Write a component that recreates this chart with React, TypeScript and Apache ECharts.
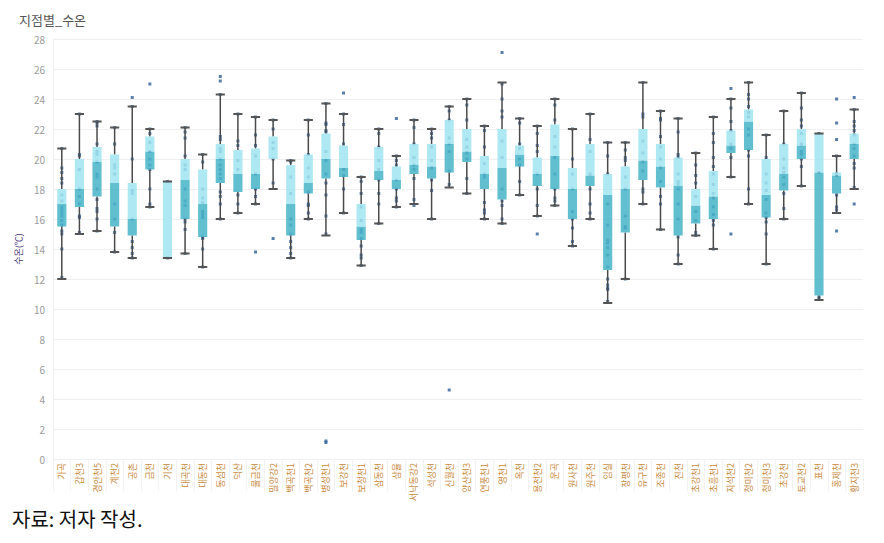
import React, { useEffect, useRef } from "react";
import * as echarts from "echarts";

const stations = [
  "가곡", "갑천3", "경안천5", "계천2", "공촌", "금천", "기천", "대곡천", "대동천", "동섬천",
  "덕산", "물금천", "밀양강2", "백곡천1", "백곡천2", "병성천1", "보강천", "보청천1", "삼동천", "삼율",
  "서낙동강2", "석성천", "신월천", "양산천3", "연풍천1", "영천1", "옥천", "용전천2", "운곡", "원사천",
  "원주천", "임실", "장평천", "유구천", "조종천", "진천", "초강천1", "초흥천1", "지석천2", "청미천2",
  "청미천3", "초강천", "토교천2", "표천", "홍제천", "황지천3",
];

const lows = [
  12.0, 15.0, 15.2, 13.8, 13.4, 16.8, 13.4, 13.7, 12.8, 16.0,
  16.4, 17.0, 18.0, 13.4, 16.0, 14.9, 16.4, 12.9, 15.7, 16.8,
  17.0, 16.0, 18.1, 17.7, 16.0, 15.7, 17.6, 16.2, 16.9, 14.2,
  16.0, 10.4, 12.0, 17.0, 15.3, 13.0, 14.9, 14.0, 18.8, 17.0,
  13.0, 16.0, 18.2, 10.6, 16.4, 18.0,
];
const q1s = [
  15.5, 16.8, 17.5, 15.5, 14.9, 19.3, 13.4, 16.0, 14.8, 18.4,
  17.8, 18.0, 20.0, 14.9, 17.7, 18.7, 18.8, 14.6, 18.6, 18.0,
  19.0, 18.7, 19.1, 19.8, 18.0, 17.3, 19.5, 18.2, 18.0, 16.0,
  18.2, 12.6, 15.1, 18.6, 18.1, 14.9, 15.7, 16.0, 20.4, 20.6,
  16.1, 17.9, 20.0, 10.9, 17.7, 20.0,
];
const medians = [
  17.0, 18.0, 19.8, 18.4, 16.0, 20.5, 13.4, 18.6, 17.0, 20.0,
  19.0, 19.0, 20.0, 17.0, 18.4, 20.0, 19.4, 15.5, 19.2, 18.6,
  19.6, 19.5, 21.0, 20.5, 19.0, 19.4, 20.3, 19.0, 20.2, 18.0,
  18.9, 17.6, 18.0, 19.9, 19.5, 18.2, 16.9, 17.5, 20.9, 22.5,
  17.6, 19.0, 20.9, 19.1, 18.9, 21.0,
];
const q3s = [
  18.0, 20.0, 20.8, 20.3, 18.4, 21.5, 18.5, 20.0, 19.3, 21.0,
  20.6, 20.7, 21.5, 19.6, 20.3, 21.7, 20.9, 17.0, 20.8, 19.5,
  21.0, 21.0, 22.6, 22.0, 20.2, 22.0, 20.9, 20.1, 22.3, 19.4,
  21.0, 19.0, 19.5, 22.0, 21.0, 20.1, 18.0, 19.2, 21.9, 23.3,
  20.0, 21.0, 22.0, 21.7, 19.1, 21.7,
];
const highs = [
  20.7, 23.0, 22.5, 22.1, 23.5, 22.0, 18.5, 22.1, 20.3, 24.3,
  23.0, 22.8, 22.6, 19.9, 22.6, 23.7, 23.0, 18.8, 22.0, 20.2,
  22.6, 22.0, 23.5, 24.0, 22.2, 25.1, 22.7, 22.2, 24.0, 22.0,
  23.0, 21.1, 21.1, 25.1, 23.2, 22.7, 20.4, 22.8, 24.0, 25.1,
  21.6, 23.2, 24.4, 21.7, 20.2, 23.3,
];

const pointValues: number[][] = [
  [20.7, 19.4, 19.1, 18.7, 18.4, 17.6, 17.2, 16.8, 16.6, 16.4, 16.2, 15.9, 15.6, 15.2, 15.0, 14.0, 12.1],
  [23.0, 20.3, 20.2, 19.3, 18.0, 17.5, 17.0, 16.2, 16.1, 15.1],
  [22.5, 22.4, 22.2, 21.0, 20.5, 20.3, 19.8, 19.0, 18.8, 18.0, 17.3, 16.7, 16.5, 16.0, 15.2],
  [22.1, 21.0, 19.6, 19.4, 19.0, 17.0, 16.0, 15.1, 13.8],
  [24.1, 23.5, 20.0, 17.9, 17.7, 16.0, 14.5, 14.1, 13.7, 13.4],
  [25.0, 22.0, 21.7, 21.1, 20.5, 20.0, 19.6, 19.3, 18.0, 17.0, 16.8],
  [18.5, 13.4],
  [22.1, 21.8, 21.4, 20.2, 19.6, 19.3, 18.0, 17.2, 16.9, 16.0, 15.8, 15.3, 13.7],
  [20.3, 19.8, 18.0, 17.4, 17.1, 16.5, 16.3, 16.1, 14.8, 14.7, 14.0, 12.8],
  [25.5, 25.2, 24.3, 21.5, 21.3, 20.7, 20.5, 20.0, 19.6, 19.3, 19.0, 18.7, 17.8, 17.5, 17.0, 16.0],
  [23.0, 21.2, 20.9, 19.9, 19.3, 17.6, 17.0, 16.4],
  [22.8, 21.6, 20.9, 20.2, 19.0, 18.0, 17.5, 17.0, 13.8],
  [22.6, 22.0, 21.1, 20.7, 20.0, 18.4, 14.7],
  [19.9, 19.8, 18.8, 17.7, 16.0, 15.6, 15.0, 14.5, 14.1, 13.7, 13.4],
  [22.6, 21.6, 20.3, 19.4, 18.8, 17.8, 17.0, 16.9, 16.4, 16.0],
  [23.7, 22.4, 22.3, 21.9, 21.8, 20.5, 19.9, 19.0, 18.4, 17.6, 16.2, 15.0, 1.2, 1.1],
  [24.4, 23.0, 22.3, 21.0, 19.3, 18.9, 18.0, 16.4],
  [18.8, 18.5, 17.7, 16.8, 15.9, 15.3, 15.1, 14.7, 14.2, 13.6, 13.4, 12.9],
  [22.0, 21.7, 20.8, 19.9, 19.3, 18.6, 17.7, 17.0, 15.7],
  [22.7, 20.2, 19.9, 19.6, 18.6, 18.0, 17.4, 17.2, 16.8],
  [22.6, 22.1, 21.0, 20.1, 19.6, 19.3, 18.7, 17.3, 16.9],
  [22.0, 21.7, 21.4, 20.8, 19.9, 19.4, 18.6, 17.9, 16.0],
  [23.5, 23.2, 22.6, 21.4, 21.0, 20.5, 19.2, 18.3, 4.6],
  [24.0, 23.6, 22.6, 21.3, 20.8, 20.4, 20.0, 18.7, 17.7],
  [22.2, 21.9, 20.8, 19.7, 19.0, 18.8, 17.1, 16.6, 16.4, 16.0],
  [27.1, 25.0, 24.0, 23.2, 22.8, 21.2, 20.1, 18.0, 17.2, 16.9, 16.0, 15.7],
  [22.7, 22.4, 21.0, 20.7, 20.0, 19.6, 18.5, 17.6],
  [22.2, 21.7, 20.9, 20.5, 19.0, 18.0, 16.9, 16.2, 15.0],
  [24.0, 23.6, 22.6, 21.5, 20.8, 20.1, 19.0, 18.0, 17.4, 17.2, 16.9],
  [22.0, 20.0, 19.0, 18.0, 16.5, 16.0, 15.4, 14.5, 14.2],
  [23.0, 21.3, 20.5, 19.0, 18.0, 17.0, 16.4, 16.0],
  [21.1, 20.2, 19.0, 17.0, 15.6, 14.6, 14.4, 14.1, 13.6, 12.8, 12.0, 11.6, 11.4, 11.3, 10.5],
  [21.1, 20.6, 20.1, 19.9, 18.8, 18.0, 16.2, 15.5, 15.4, 12.0],
  [25.1, 23.0, 22.8, 21.2, 20.4, 19.8, 19.2, 18.0, 17.8, 17.0],
  [23.2, 22.7, 22.6, 21.5, 20.8, 20.0, 19.4, 18.5, 17.5, 17.0, 15.3],
  [22.7, 21.8, 20.3, 20.1, 19.0, 18.5, 18.3, 18.0, 17.0, 16.0, 14.8, 13.6, 13.0],
  [20.4, 19.6, 18.9, 18.4, 17.5, 16.5, 15.9, 15.1, 14.9],
  [22.8, 21.7, 21.1, 20.1, 19.5, 19.0, 18.3, 17.7, 17.4, 16.8, 16.3, 15.9, 15.6, 14.0],
  [24.7, 24.0, 23.4, 22.5, 21.9, 21.0, 20.7, 20.1, 18.8, 15.0],
  [25.1, 24.3, 24.0, 23.5, 23.1, 22.8, 22.0, 21.6, 20.6, 20.2, 18.0, 17.0],
  [21.6, 20.1, 19.0, 18.4, 17.9, 17.3, 16.4, 16.1, 15.8, 15.0, 13.0],
  [23.2, 21.0, 20.0, 19.4, 19.1, 18.8, 18.3, 17.7, 16.7, 16.0],
  [24.4, 23.4, 22.6, 22.2, 21.7, 21.0, 20.5, 20.3, 20.0, 19.5, 18.2],
  [21.7, 19.1, 10.8, 10.7],
  [24.0, 22.4, 21.3, 20.2, 19.0, 18.9, 17.6, 16.8, 16.6, 15.2],
  [24.1, 23.3, 22.5, 22.2, 21.9, 21.6, 21.0, 20.7, 20.2, 19.7, 19.4, 18.1, 17.0],
];

const yTicks = { min: 0, max: 28, interval: 2 };
const titleText = "지점별_수온";
const yAxisName = "수온(℃)";
const captionText = "자료: 저자 작성.";

const FONT = "'Noto Sans CJK KR', 'Noto Sans', sans-serif";

export default function App() {
  const ref = useRef<HTMLDivElement>(null);

  useEffect(() => {
    if (!ref.current) return;
    const chart = echarts.init(ref.current, undefined, { renderer: "svg" });

    const boxData = stations.map((_, i) => [i, lows[i], q1s[i], medians[i], q3s[i], highs[i]]);
    const scatterData: number[][] = [];
    pointValues.forEach((vals, i) => vals.forEach((v) => scatterData.push([i, v])));

    const option: any = {
      animation: false,
      textStyle: { fontFamily: FONT },
      title: {
        text: titleText,
        left: 14,
        top: 8,
        textStyle: { fontSize: 13, fontWeight: "normal", color: "#555", fontFamily: FONT },
      },
      grid: { left: 53, right: 21, top: 39, bottom: 84, containLabel: false },
      xAxis: {
        type: "category",
        data: stations,
        boundaryGap: true,
        axisLine: { show: false },
        axisTick: { show: true, length: 32, lineStyle: { color: "#f2f2f2" } },
        axisLabel: {
          rotate: 90,
          interval: 0,
          fontSize: 9,
          color: "#c98b3f",
          margin: 4,
          fontFamily: FONT,
        },
        splitLine: { show: false },
      },
      yAxis: {
        type: "value",
        min: yTicks.min,
        max: yTicks.max,
        interval: yTicks.interval,
        name: yAxisName,
        nameLocation: "middle",
        nameGap: 26,
        nameTextStyle: { color: "#4a3b7c", fontSize: 9, fontFamily: FONT },
        axisLine: { show: true, lineStyle: { color: "#f0f0f0" } },
        axisTick: { show: false },
        axisLabel: { color: "#9a9a9a", fontSize: 10, margin: 8, fontFamily: FONT },
        splitLine: { show: true, lineStyle: { color: "#f0f0f0", width: 1 } },
      },
      graphic: [
        {
          type: "text",
          left: 12,
          top: 508,
          style: { text: captionText, fontSize: 20, fill: "#111", fontFamily: FONT },
        },
      ],
      series: [
        {
          type: "scatter",
          data: scatterData,
          symbol: "rect",
          symbolSize: 3,
          itemStyle: { color: "#2f5f99" },
          z: 2,
        },
        {
          type: "custom",
          z: 3,
          data: boxData,
          encode: { x: 0, y: [1, 2, 3, 4, 5] },
          renderItem: (params: any, api: any) => {
            const idx = api.value(0);
            const pLow = api.coord([idx, api.value(1)]);
            const pQ1 = api.coord([idx, api.value(2)]);
            const pMed = api.coord([idx, api.value(3)]);
            const pQ3 = api.coord([idx, api.value(4)]);
            const pHigh = api.coord([idx, api.value(5)]);
            const band = api.size([1, 0])[0];
            const bw = band * 0.52;
            const x = pMed[0];
            const line = { stroke: "#4a4a4a", lineWidth: 1.5 };
            const cap = { stroke: "#555", lineWidth: 2 };
            const children: any[] = [];
            if (pHigh[1] < pQ3[1]) {
              children.push({ type: "line", shape: { x1: x, y1: pHigh[1], x2: x, y2: pQ3[1] }, style: line });
            }
            if (pLow[1] > pQ1[1]) {
              children.push({ type: "line", shape: { x1: x, y1: pQ1[1], x2: x, y2: pLow[1] }, style: line });
            }
            children.push({
              type: "rect",
              shape: { x: x - bw / 2, y: pMed[1], width: bw, height: pQ1[1] - pMed[1] },
              style: { fill: "rgba(71,180,200,0.85)" },
            });
            children.push({
              type: "rect",
              shape: { x: x - bw / 2, y: pQ3[1], width: bw, height: pMed[1] - pQ3[1] },
              style: { fill: "rgba(160,228,240,0.85)" },
            });
            children.push({ type: "line", shape: { x1: x - bw / 2, y1: pHigh[1], x2: x + bw / 2, y2: pHigh[1] }, style: cap });
            children.push({ type: "line", shape: { x1: x - bw / 2, y1: pLow[1], x2: x + bw / 2, y2: pLow[1] }, style: cap });
            return { type: "group", children };
          },
        },
      ],
    };

    chart.setOption(option);
    return () => chart.dispose();
  }, []);

  return (
    <div
      ref={ref}
      style={{ position: "fixed", left: 0, top: 0, width: 884, height: 543, background: "#fff" }}
    />
  );
}
